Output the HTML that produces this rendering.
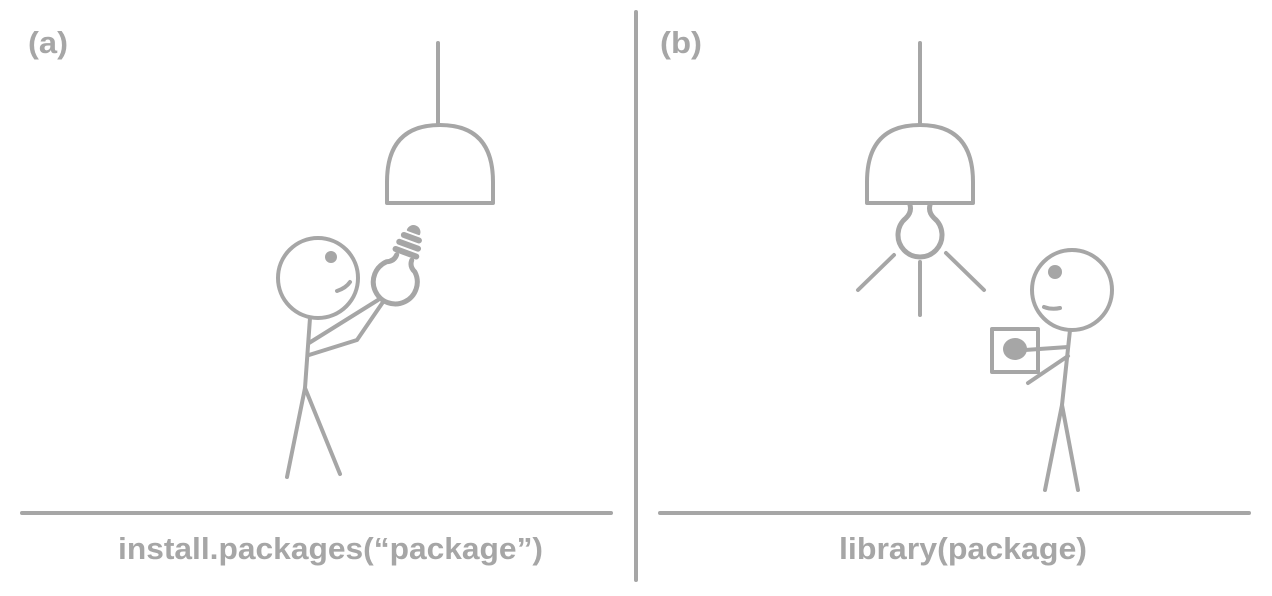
<!DOCTYPE html>
<html><head><meta charset="utf-8"><style>
html,body{margin:0;padding:0;background:#fff;width:1272px;height:596px;overflow:hidden}
svg{display:block}
text{font-family:"Liberation Sans",sans-serif;font-weight:bold;fill:#a6a6a6}
</style></head><body>
<svg width="1272" height="596" viewBox="0 0 1272 596">
<g stroke="#a6a6a6" stroke-width="4" fill="none" stroke-linecap="round" stroke-linejoin="round">
  <line x1="636" y1="12" x2="636" y2="580"/>
  <line x1="22" y1="513" x2="611" y2="513"/>
  <line x1="660" y1="513" x2="1249" y2="513"/>

  <g>
    <line x1="438" y1="43" x2="438" y2="125"/>
    <path d="M387,203 V182 Q387,125 440,125 Q493,125 493,182 V203 Z"/>
  </g>
  <g>
    <circle cx="318" cy="278" r="40"/>
    <circle cx="331" cy="257" r="6" fill="#a6a6a6" stroke="none"/>
    <path d="M337,291 Q346,288 350,282"/>
    <line x1="310" y1="318" x2="305" y2="388"/>
    <line x1="305" y1="388" x2="287" y2="477"/>
    <line x1="305" y1="388" x2="340" y2="474"/>
    <line x1="309" y1="343" x2="378" y2="300"/>
    <path d="M309,355 L357,340 L383,302"/>
  </g>
  <g transform="rotate(20 396 280)">
    <path d="M388,256 Q388,263 381,266 A22,22 0 1 0 411,266 Q404,263 404,256" stroke-width="5"/>
    <line x1="385" y1="251" x2="407" y2="251" stroke-width="6"/>
    <line x1="386" y1="243" x2="406" y2="243" stroke-width="6"/>
    <line x1="388" y1="235" x2="404" y2="235" stroke-width="6"/>
    <path d="M390,229 A6,6 0 0 1 402,229 Z" fill="#a6a6a6" stroke-width="2"/>
  </g>

  <g>
    <line x1="920" y1="43" x2="920" y2="125"/>
    <path d="M867,203 V182 Q867,125 920,125 Q973,125 973,182 V203 Z"/>
  </g>
  <g>
    <path d="M910,205 Q912,212 906,218 A22,22 0 1 0 934,218 Q928,212 930,205" stroke-width="5"/>
    <line x1="858" y1="290" x2="894" y2="255"/>
    <line x1="920" y1="262" x2="920" y2="315"/>
    <line x1="946" y1="253" x2="984" y2="290"/>
  </g>
  <g>
    <circle cx="1072" cy="290" r="40"/>
    <circle cx="1055" cy="272" r="7" fill="#a6a6a6" stroke="none"/>
    <path d="M1044,307 Q1052,310 1060,308"/>
    <line x1="1070" y1="330" x2="1062" y2="405"/>
    <line x1="1062" y1="405" x2="1045" y2="490"/>
    <line x1="1062" y1="405" x2="1078" y2="490"/>
    <rect x="992" y="329" width="46" height="43"/>
    <ellipse cx="1015" cy="349" rx="12" ry="11" fill="#a6a6a6" stroke="none"/>
    <line x1="1025" y1="350" x2="1068" y2="347"/>
    <line x1="1028" y1="383" x2="1068" y2="356"/>
  </g>
</g>
<text x="28" y="53" font-size="31" textLength="40" lengthAdjust="spacingAndGlyphs">(a)</text>
<text x="660" y="53" font-size="31" textLength="42" lengthAdjust="spacingAndGlyphs">(b)</text>
<text x="118" y="559" font-size="31" textLength="425" lengthAdjust="spacingAndGlyphs">install.packages(“package”)</text>
<text x="839" y="559" font-size="31" textLength="248" lengthAdjust="spacingAndGlyphs">library(package)</text>
</svg>
</body></html>
